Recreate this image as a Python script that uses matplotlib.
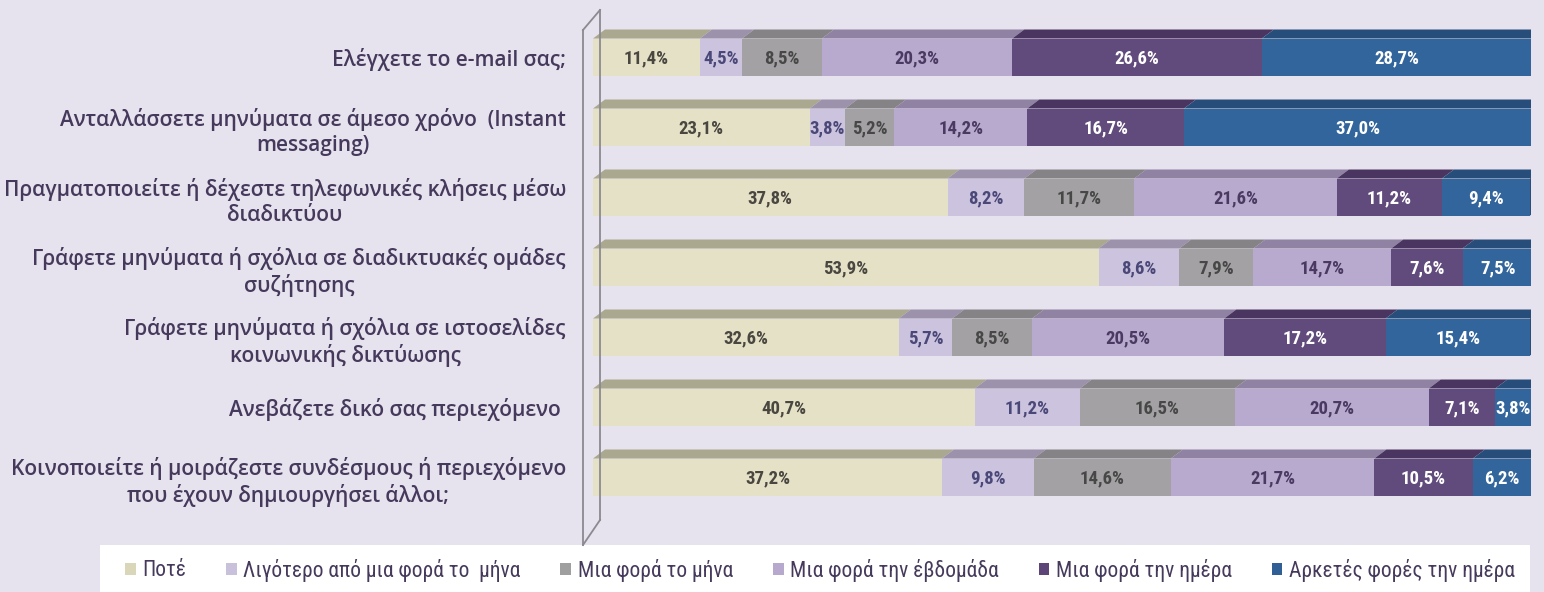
import matplotlib
matplotlib.use("Agg")
import matplotlib.pyplot as plt
from matplotlib.patches import Polygon, Patch, Rectangle
from matplotlib.lines import Line2D
from matplotlib.transforms import blended_transform_factory
import numpy as np

# ---------------- data ----------------
categories = [
    "Ελέγχετε το e-mail σας;",
    "Ανταλλάσσετε μηνύματα σε άμεσο χρόνο  (Instant\nmessaging)",
    "Πραγματοποιείτε ή δέχεστε τηλεφωνικές κλήσεις μέσω\nδιαδικτύου",
    "Γράφετε μηνύματα ή σχόλια σε διαδικτυακές ομάδες\nσυζήτησης",
    "Γράφετε μηνύματα ή σχόλια σε ιστοσελίδες\nκοινωνικής δικτύωσης",
    "Ανεβάζετε δικό σας περιεχόμενο ",
    "Κοινοποιείτε ή μοιράζεστε συνδέσμους ή περιεχόμενο\nπου έχουν δημιουργήσει άλλοι;",
]
series_names = ["Ποτέ", "Λιγότερο από μια φορά το  μήνα", "Μια φορά το μήνα",
                "Μια φορά την έβδομάδα", "Μια φορά την ημέρα", "Αρκετές φορές την ημέρα"]
never = [11.4, 23.1, 37.8, 53.9, 32.6, 40.7, 37.2]
less_than_month = [4.5, 3.8, 8.2, 8.6, 5.7, 11.2, 9.8]
once_month = [8.5, 5.2, 11.7, 7.9, 8.5, 16.5, 14.6]
once_week = [20.3, 14.2, 21.6, 14.7, 20.5, 20.7, 21.7]
once_day = [26.6, 16.7, 11.2, 7.6, 17.2, 7.1, 10.5]
several_day = [28.7, 37.0, 9.4, 7.5, 15.4, 3.8, 6.2]

# ---------------- style ----------------
bg = "#E6E2EE"
face_colors = ["#E4E1C6", "#CCC3DE", "#A3A1A3", "#B8A9CF", "#614A7C", "#32659B"]
top_colors = ["#ABA890", "#9C92AC", "#858385", "#8F82A3", "#4A3560", "#274E7A"]
side_color = "#23456E"
label_colors = ["#4A4640", "#4A4878", "#474747", "#4A3A62", "white", "white"]
legend_colors = ["#D9D6BA", "#C9C0DC", "#A09FA0", "#B7A8CD", "#5D4577", "#2F5F95"]
text_color = "#45395C"
narrow = ["Roboto Condensed", "DejaVu Sans"]
regular = ["Open Sans", "DejaVu Sans"]

W, H = 1544, 592
fig = plt.figure(figsize=(W / 100, H / 100), dpi=100)
fig.patch.set_facecolor(bg)

x0_px, x1_px = 593, 1531
ytop_px, ybot_px = 22, 512
ax = fig.add_axes([x0_px / W, (H - ybot_px) / H, (x1_px - x0_px) / W, (ybot_px - ytop_px) / H])
ax.set_xlim(0, 100)
ax.set_ylim(len(categories) - 0.5, -0.5)
ax.axis("off")
ax.patch.set_alpha(0)

px_per_x = (x1_px - x0_px) / 100.0
px_per_y = (ybot_px - ytop_px) / len(categories)
dx = 12 / px_per_x
dy = 9 / px_per_y
bar_h = 37 / px_per_y

# left wall (3D frame)
wall_color = "#8C8A90"
fx, bx = 583 / W, 600 / W
def fy(p):
    return (H - p) / H
for (xa, ya), (xb, yb) in [((fx, fy(30)), (fx, fy(545))),
                           ((fx, fy(30)), (bx, fy(10))),
                           ((fx, fy(545)), (bx, fy(520))),
                           ((bx, fy(10)), (bx, fy(520)))]:
    fig.add_artist(Line2D([xa, xb], [ya, yb], color=wall_color, lw=1.3, zorder=0.5))

data = np.array([never, less_than_month, once_month, once_week, once_day, several_day])
y = np.arange(len(categories))
lefts = np.zeros(len(categories))
for k in range(data.shape[0]):
    vals = data[k]
    ax.barh(y, vals, left=lefts, height=bar_h, color=face_colors[k], edgecolor="none", zorder=3)
    for i, (l, v) in enumerate(zip(lefts, vals)):
        top = y[i] - bar_h / 2
        ax.add_patch(Polygon([(l, top), (l + v, top), (l + v + dx, top - dy), (l + dx, top - dy)],
                             closed=True, facecolor=top_colors[k], edgecolor="none", zorder=2))
        ax.text(l + v / 2, y[i] + 0.02, f"{v:.1f}".replace(".", ",") + "%", ha="center", va="center",
                color=label_colors[k], fontsize=13.5, fontweight="bold", family=narrow, zorder=5)
    lefts = lefts + vals

# right side face of each bar
for i in range(len(categories)):
    r = lefts[i]
    top = y[i] - bar_h / 2
    bot = y[i] + bar_h / 2
    ax.add_patch(Polygon([(r, top), (r + dx, top - dy), (r + dx, bot - dy), (r, bot)],
                         closed=True, facecolor=side_color, edgecolor="none", zorder=2.5))

# category labels
tr = blended_transform_factory(fig.transFigure, ax.transData)
for i, c in enumerate(categories):
    off = 0.07 if "\n" in c else 0.04
    ax.text(566 / W, y[i] + off, c, transform=tr, ha="right", va="center", multialignment="center",
            color=text_color, fontsize=15, fontweight=600, family=regular, linespacing=1.25)

# legend box
fig.add_artist(Rectangle((100 / W, 0), (1530 - 100) / W, (H - 545) / H, transform=fig.transFigure,
                         facecolor="white", edgecolor="none", zorder=0.2))
handles = [Patch(facecolor=c, edgecolor="none") for c in legend_colors]
leg = fig.legend(handles, series_names, loc="center", bbox_to_anchor=(820 / W, fy(570)), ncol=6,
                 frameon=False, handlelength=0.5, handleheight=0.5, handletextpad=0.3,
                 columnspacing=1.85, prop={"family": narrow, "size": 15.5, "weight": "normal"})
for t in leg.get_texts():
    t.set_color(text_color)

fig.savefig("out.png", dpi=100, facecolor=bg)
